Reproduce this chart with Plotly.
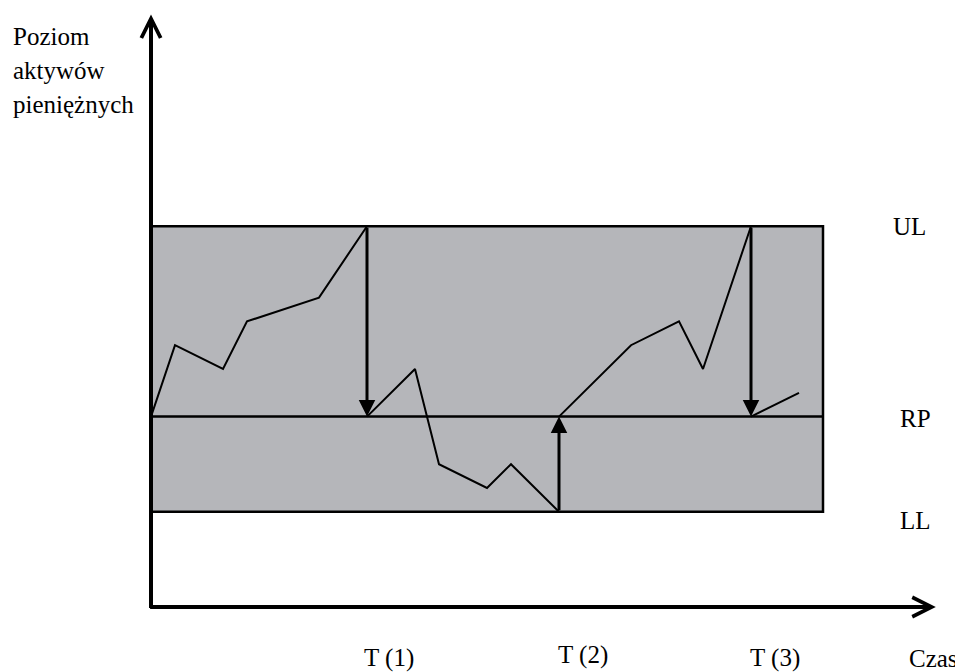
import plotly.graph_objects as go

# Levels of the cash balance band
level_names = ["UL", "RP", "LL"]
level_values = [16, 8, 4]
UL, RP, LL = level_values

# Cash balance path (None separates segments interrupted by interventions)
time_vals = [0, 1, 3, 4, 7, 9, None, 9, 11, 12, 14, 15, 17, None, 17, 20, 22, 23, 25, None, 25, 27]
cash_vals = [8, 11, 10, 12, 13, 16, None, 8, 10, 6, 5, 6, 4, None, 8, 11, 12, 10, 16, None, 8, 9]

# Interventions (time, from level, to level)
interv_times = [9, 17, 25]
interv_from = [16, 4, 16]
interv_to = [8, 8, 8]
interv_labels = ["T (1)", "T (2)", "T (3)"]

band_end = 28
x_max = 33
y_max = 25

FONT = "Liberation Serif"

fig = go.Figure()

# band rectangle
fig.add_shape(type="rect", x0=0, x1=band_end, y0=LL, y1=UL,
              fillcolor="#b5b6ba", line=dict(color="black", width=2.5), layer="below")
# return point line
fig.add_shape(type="line", x0=0, x1=band_end, y0=RP, y1=RP,
              line=dict(color="black", width=2.5))

fig.add_trace(go.Scatter(x=time_vals, y=cash_vals, mode="lines",
                         line=dict(color="black", width=2), connectgaps=False,
                         hoverinfo="skip", showlegend=False))

# intervention arrows
for t, f, to in zip(interv_times, interv_from, interv_to):
    fig.add_annotation(x=t, y=to, ax=t, ay=f, xref="x", yref="y", axref="x", ayref="y",
                       showarrow=True, arrowhead=2, arrowsize=1.1, arrowwidth=3,
                       arrowcolor="black", standoff=0, text="")

# axes with arrows
fig.add_annotation(x=0, y=y_max - 0.1, ax=0, ay=-0.1, xref="x", yref="y", axref="x", ayref="y",
                   showarrow=True, arrowhead=5, arrowsize=0.95, arrowwidth=4,
                   arrowcolor="black", standoff=0, text="")
fig.add_annotation(x=x_max - 0.3, y=0, ax=-0.1, ay=0, xref="x", yref="y", axref="x", ayref="y",
                   showarrow=True, arrowhead=5, arrowsize=0.95, arrowwidth=4,
                   arrowcolor="black", standoff=0, text="")

# level labels
label_x = [31.6, 31.85, 31.85]
label_dy = [0.0, -0.1, -0.35]
for name, val, lx, dy in zip(level_names, level_values, label_x, label_dy):
    fig.add_annotation(x=lx, y=val + dy, xref="x", yref="y", text=name, showarrow=False,
                       font=dict(family=FONT, size=25, color="black"))

# time labels (x in data, y in paper units below the axis)
t_label_x = [9.9, 18.0, 26.0]
t_label_y = [-0.086, -0.081, -0.086]
for lab, lx, ly in zip(interv_labels, t_label_x, t_label_y):
    fig.add_annotation(x=lx, y=ly, xref="x", yref="paper", text=lab, showarrow=False,
                       xanchor="center", yanchor="middle",
                       font=dict(family=FONT, size=25, color="black"))
fig.add_annotation(x=32.6, y=-0.086, xref="x", yref="paper", text="Czas", showarrow=False,
                   xanchor="center", yanchor="middle",
                   font=dict(family=FONT, size=25, color="black"))

# y axis title lines
y_title = ["Poziom", "aktywów", "pieniężnych"]
y_title_y = [0.958, 0.901, 0.844]
for txt, yy in zip(y_title, y_title_y):
    fig.add_annotation(x=-0.177, y=yy, xref="paper", yref="paper", text=txt, showarrow=False,
                       xanchor="left", yanchor="middle",
                       font=dict(family=FONT, size=25, color="black"))

fig.update_xaxes(range=[0, x_max], visible=False, fixedrange=True)
fig.update_yaxes(range=[0, y_max], visible=False, fixedrange=True)
fig.update_layout(width=955, height=664,
                  margin=dict(l=143, r=20, t=4, b=65, autoexpand=False),
                  plot_bgcolor="white", paper_bgcolor="white", showlegend=False)

fig.write_html("out.html", config={"displayModeBar": False})
